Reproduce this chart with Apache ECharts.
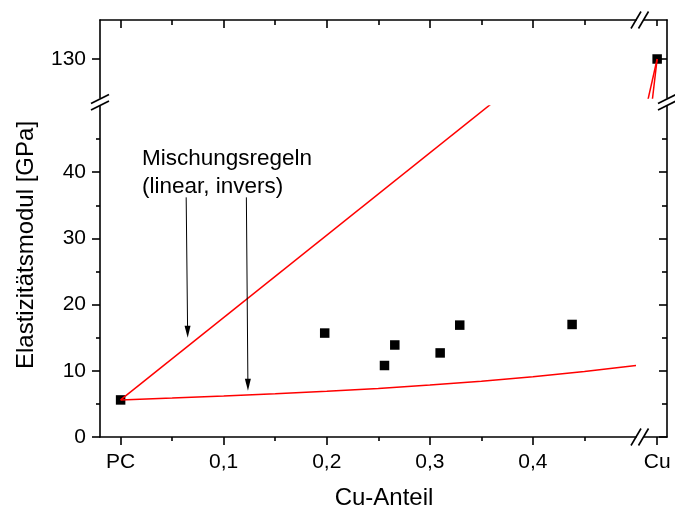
<!DOCTYPE html>
<html>
<head>
<meta charset="utf-8">
<script src="https://cdn.jsdelivr.net/npm/echarts@6/dist/echarts.min.js"></script>
<style>
  html, body { margin: 0; padding: 0; background: #fff; }
  #chart { width: 675px; height: 511px; }
</style>
</head>
<body>
<div id="chart"></div>
<script>
// Measured samples: Cu fraction and Young's modulus (GPa); PC at 0, pure Cu at 1
const sampleCu = [0, 0.198, 0.256, 0.266, 0.310, 0.329, 0.438, 1];
const sampleE  = [5.6, 15.7, 10.8, 13.9, 12.7, 16.9, 17.0, 130];

// Rule of mixtures, linear (Voigt): straight line from PC to Cu
const linearCu = [0, 1];
const linearE  = [5.6, 130];

// Rule of mixtures, inverse (Reuss): curve up to 0.5, then joined to Cu
const inversCu = [0, 0.05, 0.1, 0.15, 0.2, 0.25, 0.3, 0.35, 0.4, 0.45, 0.5, 1];
const inversE  = [5.6, 5.88, 6.18, 6.52, 6.9, 7.34, 7.84, 8.42, 9.1, 9.9, 10.8, 130];

// Tick positions and labels
const xMajor = [0, 0.1, 0.2, 0.3, 0.4];
const xMajorLabels = ['PC', '0,1', '0,2', '0,3', '0,4'];
const xMinor = [0.05, 0.15, 0.25, 0.35, 0.45];
const xCu = [1];
const xCuLabels = ['Cu'];
const yMajor = [0, 10, 20, 30, 40];
const yMinor = [5, 15, 25, 35, 45];
const yUpper = [130];

// Arrow annotations pointing at the two mixing-rule curves: [start, end]
const arrowStarts = [[0.0636, 36.2], [0.122, 36.2]];
const arrowEnds   = [[0.065, 15.9], [0.1235, 7.9]];

const FONT = '"Liberation Sans", Arial, sans-serif';
const AX = { color: '#000', width: 1.6 };

const pairs = (xs, ys) => xs.map((x, i) => [x, ys[i]]);
const samples = pairs(sampleCu, sampleE);
const linear = pairs(linearCu, linearE);
const invers = pairs(inversCu, inversE);

function lookup(vals, labels) {
  return v => {
    const i = vals.findIndex(t => Math.abs(t - v) < 1e-9);
    return i >= 0 ? labels[i] : '';
  };
}

// A value axis that only draws the given tick marks (and optional labels)
function axis(opts) {
  const a = {
    type: 'value',
    gridIndex: opts.grid,
    position: opts.position,
    min: opts.min,
    max: opts.max,
    axisLine: { show: opts.line !== false, onZero: false, lineStyle: AX },
    axisTick: {
      show: true,
      inside: !!opts.inside,
      length: opts.len,
      customValues: opts.ticks,
      lineStyle: AX
    },
    axisLabel: { show: false },
    splitLine: { show: false },
    minorTick: { show: false },
    silent: true
  };
  if (opts.labels) {
    a.axisLabel = {
      show: true,
      customValues: opts.ticks,
      formatter: lookup(opts.ticks, opts.labels),
      color: '#000',
      fontFamily: FONT,
      fontSize: 21,
      margin: opts.margin
    };
  }
  return a;
}

const X_LO = [-0.02, 0.5];
const X_HI = [0.88, 1.09];
const Y_LO = [0, 50];
const Y_HI = [120, 140];

const grids = [
  { left: 100, top: 106, width: 536, height: 331 }, // 0: main panel
  { left: 100, top: 20,  width: 536, height: 78 },  // 1: upper left
  { left: 644, top: 106, width: 23,  height: 331 }, // 2: lower right (Cu)
  { left: 644, top: 20,  width: 23,  height: 78 }   // 3: upper right (Cu)
].map(g => Object.assign(g, { containLabel: false, outerBoundsMode: 'none', show: false }));

const xAxes = [
  axis({ grid: 0, position: 'bottom', min: X_LO[0], max: X_LO[1], ticks: xMajor, len: 8, labels: xMajorLabels, margin: 15 }),
  axis({ grid: 0, position: 'bottom', min: X_LO[0], max: X_LO[1], ticks: xMinor, len: 4, line: false }),
  axis({ grid: 1, position: 'top', min: X_LO[0], max: X_LO[1], ticks: xMajor, len: 8, inside: true }),
  axis({ grid: 1, position: 'top', min: X_LO[0], max: X_LO[1], ticks: xMinor, len: 5, inside: true, line: false }),
  axis({ grid: 2, position: 'bottom', min: X_HI[0], max: X_HI[1], ticks: xCu, len: 8, labels: xCuLabels, margin: 15 }),
  axis({ grid: 3, position: 'top', min: X_HI[0], max: X_HI[1], ticks: xCu, len: 6, inside: true })
];

const yAxes = [
  axis({ grid: 0, position: 'left', min: Y_LO[0], max: Y_LO[1], ticks: yMajor, len: 8, labels: yMajor.map(String), margin: 14 }),
  axis({ grid: 0, position: 'left', min: Y_LO[0], max: Y_LO[1], ticks: yMinor, len: 4, line: false }),
  axis({ grid: 2, position: 'right', min: Y_LO[0], max: Y_LO[1], ticks: yMajor, len: 8, inside: true }),
  axis({ grid: 2, position: 'right', min: Y_LO[0], max: Y_LO[1], ticks: yMinor, len: 5, inside: true, line: false }),
  axis({ grid: 1, position: 'left', min: Y_HI[0], max: Y_HI[1], ticks: yUpper, len: 8, labels: yUpper.map(String), margin: 14 }),
  axis({ grid: 3, position: 'right', min: Y_HI[0], max: Y_HI[1], ticks: yUpper, len: 6, inside: true })
];

const RED = { color: '#ff0000', width: 1.5 };

// Series for one panel; xRange limits the inverse curve to the points that panel shows
function panelSeries(xi, yi, xRange, withArrows) {
  const inRange = invers.filter(p => p[0] >= xRange[0] - 0.06 && p[0] <= xRange[1] + 1e-9);
  const curve = inRange.length > 1 ? inRange : invers;
  const list = [
    {
      type: 'scatter', xAxisIndex: xi, yAxisIndex: yi, data: samples,
      symbol: 'rect', symbolSize: 9.5, itemStyle: { color: '#000', opacity: 1 },
      clip: true, silent: true, z: 2
    },
    {
      type: 'line', xAxisIndex: xi, yAxisIndex: yi, data: linear, showSymbol: false,
      lineStyle: RED, clip: true, silent: true, z: 3
    },
    {
      type: 'line', xAxisIndex: xi, yAxisIndex: yi, data: curve, showSymbol: false,
      lineStyle: RED, clip: true, silent: true, z: 3
    }
  ];
  if (withArrows) {
    list[1].markLine = {
      silent: true,
      animation: false,
      symbol: ['none', 'triangle'],
      symbolSize: [6, 12],
      label: { show: false },
      lineStyle: { color: '#000', width: 1, type: 'solid' },
      emphasis: { disabled: true },
      data: arrowStarts.map((s, i) => [{ coord: s }, { coord: arrowEnds[i] }])
    };
  }
  return list;
}

// Double-slash axis break marks
function slash(cx, cy, dx, dy) {
  return {
    type: 'line', silent: true, z: 10,
    shape: { x1: cx - dx, y1: cy + dy, x2: cx + dx, y2: cy - dy },
    style: { stroke: '#000', lineWidth: 1.6 }
  };
}
const breaks = [
  // left and right axes (value break)
  slash(100, 99, 9, 4.5), slash(100, 105.5, 9, 4.5),
  slash(667, 99, 9, 4.5), slash(667, 105.5, 9, 4.5),
  // bottom and top axes (Cu fraction break)
  slash(636, 437, 5, 8.5), slash(643.5, 437, 5, 8.5),
  slash(636, 20, 5, 8.5), slash(643.5, 20, 5, 8.5)
];

const texts = [
  {
    type: 'text', silent: true, left: 142, top: 145,
    style: { text: 'Mischungsregeln\n(linear, invers)', font: '22.5px ' + FONT, lineHeight: 28, fill: '#000' }
  },
  {
    type: 'text', silent: true, x: 384, y: 498,
    style: { text: 'Cu-Anteil', font: '24px ' + FONT, fill: '#000', align: 'center', verticalAlign: 'middle' }
  },
  {
    type: 'text', silent: true, x: 26, y: 245, rotation: Math.PI / 2,
    style: { text: 'Elastizitätsmodul [GPa]', font: '24px ' + FONT, fill: '#000', align: 'center', verticalAlign: 'middle' }
  }
];

const chart = echarts.init(document.getElementById('chart'), null, { renderer: 'canvas' });
chart.setOption({
  animation: false,
  backgroundColor: '#fff',
  grid: grids,
  xAxis: xAxes,
  yAxis: yAxes,
  series: [].concat(panelSeries(0, 0, X_LO, true), panelSeries(5, 5, X_HI, false)),
  graphic: breaks.concat(texts)
});
</script>
</body>
</html>
